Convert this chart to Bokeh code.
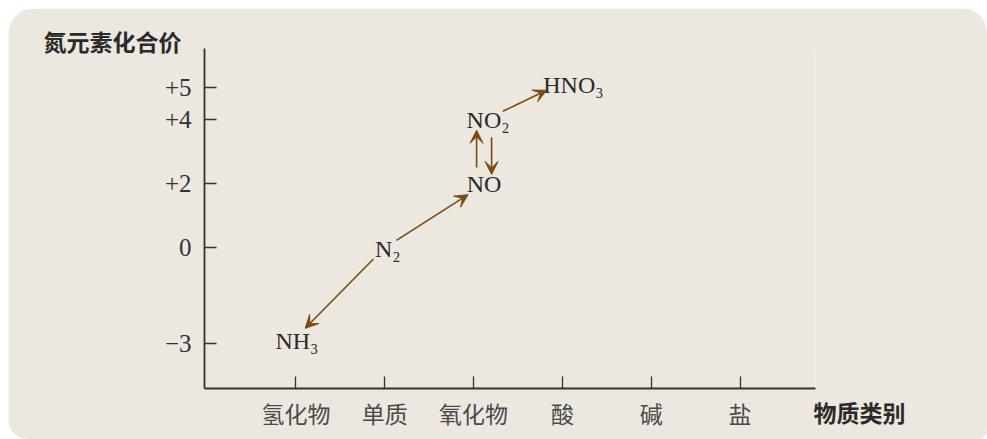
import math
from bokeh.plotting import figure
from bokeh.models import Arrow, VeeHead, Title, FixedTicker, Range1d, ColumnDataSource
from bokeh.core.properties import value
from bokeh.embed import file_html
from bokeh.resources import INLINE

# ---------------- data ----------------
categories = ["氢化物", "单质", "氧化物", "酸", "碱", "盐"]
valence_ticks = [5, 4, 2, 0, -3]
valence_tick_labels = ["+5", "+4", "+2", "0", "\u22123"]
species = ["NH\u2083", "N\u2082", "NO", "NO\u2082", "HNO\u2083"]
species_category = ["氢化物", "单质", "氧化物", "氧化物", "酸"]
species_valence = [-3, 0, 2, 4, 5]
transitions = [("N\u2082", "NH\u2083"), ("N\u2082", "NO"), ("NO", "NO\u2082"),
               ("NO\u2082", "NO"), ("NO\u2082", "HNO\u2083")]
y_title = "氮元素化合价"
x_title = "物质类别"

# ---------------- style / geometry ----------------
W, H = 979, 431
BL, BR, BT, BB = 196, 172, 40, 51
FW, FH = W - BL - BR, H - BT - BB
X0, X1 = -0.03, 6.85
Y0, Y1 = -4.40, 6.21
BG = "#ECE8DF"
AX = "#333333"
ARROW = "#7A4A10"

anchor_dx = {"NH\u2083": -3, "N\u2082": -1, "NO": 10.5, "NO\u2082": 10.5, "HNO\u2083": 7}
anchor_dy = {"NH\u2083": -3, "N\u2082": 1, "NO": 1, "NO\u2082": 1, "HNO\u2083": -2}
main_half_w = {"NH\u2083": 20, "N\u2082": 8.5, "NO": 17.5, "NO\u2082": 17.5, "HNO\u2083": 31}
aim_dy = {"NH\u2083": 0, "N\u2082": 0, "NO": 0, "NO\u2082": 0, "HNO\u2083": -6}
sub_half = 4


def to_px(x, y):
    return BL + (x - X0) / (X1 - X0) * FW, BT + (Y1 - y) / (Y1 - Y0) * FH


def to_data(px, py):
    return X0 + (px - BL) / FW * (X1 - X0), Y1 - (py - BT) / FH * (Y1 - Y0)


cat_index = {c: i + 1 for i, c in enumerate(categories)}
sx = [cat_index[c] for c in species_category]
sy = list(species_valence)

p = figure(width=W, height=H, output_backend="svg", toolbar_location=None,
           x_range=Range1d(X0, X1), y_range=Range1d(Y0, Y1),
           min_border_left=BL, min_border_right=BR, min_border_top=BT, min_border_bottom=BB,
           background_fill_color=BG, border_fill_color=BG, outline_line_color=None)
p.margin = (8, 0, 0, 8)
p.styles = {"border-radius": "27px 25px 8px 20px", "overflow": "hidden"}
p.grid.visible = False

for ax in (p.xaxis[0], p.yaxis[0]):
    ax.axis_line_color = AX
    ax.axis_line_width = 1.8
    ax.major_tick_line_color = AX
    ax.major_tick_line_width = 1.3
    ax.major_tick_in = 12
    ax.major_tick_out = 0
    ax.minor_tick_line_color = None

p.yaxis.ticker = FixedTicker(ticks=valence_ticks)
p.yaxis.major_label_overrides = {v: t for v, t in zip(valence_ticks, valence_tick_labels)}
p.yaxis.major_label_text_font = "Liberation Serif"
p.yaxis.major_label_text_font_size = "25px"
p.yaxis.major_label_text_color = AX
p.yaxis.major_label_standoff = 13

p.xaxis.ticker = FixedTicker(ticks=list(range(1, len(categories) + 1)))
p.xaxis.major_label_overrides = {i + 1: c for i, c in enumerate(categories)}
p.xaxis.major_label_text_font = "Noto Sans CJK SC"
p.xaxis.major_label_text_font_size = "23px"
p.xaxis.major_label_text_color = "#4a4a4a"
p.xaxis.major_label_standoff = 7

offs = [anchor_dx[s] + (sub_half if any(ch in s for ch in "\u2082\u2083") else 0) for s in species]
dys = [anchor_dy[s] for s in species]
src = ColumnDataSource(dict(x=sx, y=sy, text=species, dx=offs, dy=dys))
p.text(x="x", y="y", text="text", source=src, x_offset="dx", y_offset="dy",
       text_font=value("Liberation Serif"), text_font_size="24px",
       text_align="center", text_baseline="middle", text_color="#2a2a2a")

pos = {s: to_px(x, y) for s, x, y in zip(species, sx, sy)}
anchor = {s: (pos[s][0] + anchor_dx[s], pos[s][1] + anchor_dy[s] + aim_dy[s]) for s in species}
pairs = set(transitions)
xs0, ys0, xs1, ys1 = [], [], [], []
B = 14
for a, b in transitions:
    (ax_, ay_), (bx_, by_) = anchor[a], anchor[b]
    dx, dy = bx_ - ax_, by_ - ay_
    L = math.hypot(dx, dy)
    ux, uy = dx / L, dy / L
    ox, oy = 0.0, 0.0
    ta = 1 / math.sqrt((ux / (main_half_w[a] + 7)) ** 2 + (uy / B) ** 2)
    tb = 1 / math.sqrt((ux / (main_half_w[b] + 6)) ** 2 + (uy / B) ** 2)
    if (b, a) in pairs:
        ox, oy = uy * 7.5, -ux * 7.5
        ta, tb = 17, 10
    p0 = to_data(ax_ + ux * ta + ox, ay_ + uy * ta + oy)
    p1 = to_data(bx_ - ux * tb + ox, by_ - uy * tb + oy)
    xs0.append(p0[0]); ys0.append(p0[1]); xs1.append(p1[0]); ys1.append(p1[1])

asrc = ColumnDataSource(dict(x0=xs0, y0=ys0, x1=xs1, y1=ys1))
p.add_layout(Arrow(source=asrc, x_start="x0", y_start="y0", x_end="x1", y_end="y1",
                   line_color=ARROW, line_width=1.6,
                   end=VeeHead(size=13, fill_color=ARROW, line_color=ARROW, line_width=1)))

# axis titles as plot titles (not clipped to the frame)
p.add_layout(Title(text=y_title, align="left", offset=-161, standoff=-18,
                   text_font="Noto Sans CJK SC", text_font_style="bold",
                   text_font_size="23px", text_color="#2a2a2a"), "above")
p.add_layout(Title(text=x_title, align="right", offset=-90, standoff=-76, vertical_align="top",
                   text_font="Noto Sans CJK SC", text_font_style="bold",
                   text_font_size="23px", text_color="#2a2a2a"), "below")

open("out.html", "w").write(file_html(p, INLINE))
